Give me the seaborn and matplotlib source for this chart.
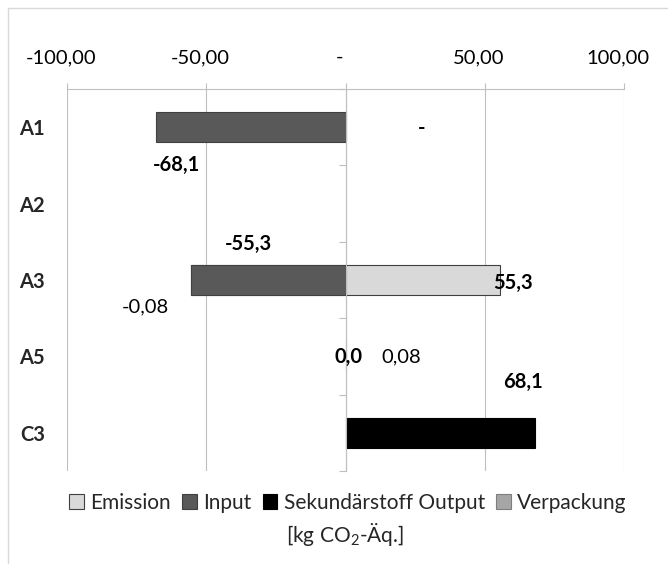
import matplotlib
matplotlib.use("Agg")
import matplotlib.pyplot as plt
import matplotlib.transforms as mtransforms
from matplotlib.lines import Line2D
from matplotlib.patches import Patch
from matplotlib.ticker import FuncFormatter, FixedLocator
import numpy as np
import pandas as pd
import seaborn as sns

# --- data -------------------------------------------------------------
categories = ["A1", "A2", "A3", "A5", "C3"]
emission = [0.0, 0.0, 55.3, 0.0, 0.0]
input_ = [-68.1, 0.0, -55.3, 0.0, 0.0]
sekundaer = [0.0, 0.0, 0.0, 0.0, 68.1]
verpackung = [0.0, 0.0, -0.08, 0.08, 0.0]
x_ticks = [-100, -50, 0, 50, 100]

series_names = ["Emission", "Input", "Sekundärstoff Output", "Verpackung"]
series_values = [emission, input_, sekundaer, verpackung]
colors = {"Emission": "#d9d9d9", "Input": "#595959",
          "Sekundärstoff Output": "#000000", "Verpackung": "#a6a6a6"}
edges = {"Emission": "#404040", "Input": "#404040",
         "Sekundärstoff Output": "#000000", "Verpackung": "#7f7f7f"}

# --- style ------------------------------------------------------------
sns.set_theme(style="white")
plt.rcParams["font.family"] = ["Lato", "DejaVu Sans"]
plt.rcParams["mathtext.fontset"] = "custom"
plt.rcParams["mathtext.rm"] = "Lato"
plt.rcParams["mathtext.default"] = "rm"

fig = plt.figure(figsize=(6.68, 5.64), dpi=100)
W, H = 668, 564
ax = fig.add_axes([67 / W, 1 - 471 / H, (624 - 67) / W, (471 - 89) / H])

df = pd.DataFrame({"cat": categories})
for n, v in zip(series_names, series_values):
    df[n] = v

# stacked bars: positive and negative parts stacked separately in series order
pos_cum = np.zeros(len(categories))
neg_cum = np.zeros(len(categories))
layers = []
for n in series_names:
    v = df[n].to_numpy()
    p = np.where(v > 0, v, 0.0)
    q = np.where(v < 0, v, 0.0)
    pos_cum = pos_cum + p
    neg_cum = neg_cum + q
    layers.append((n, pos_cum.copy(), neg_cum.copy(), p, q))

# draw from the outermost cumulative layer inwards
for n, pc, nc, p, q in reversed(layers):
    for cum, part in ((pc, p), (nc, q)):
        if not np.any(part != 0):
            continue
        d = pd.DataFrame({"cat": categories, "val": np.where(part != 0, cum, np.nan)})
        sns.barplot(data=d, y="cat", x="val", order=categories, orient="h",
                    color=colors[n], width=0.4, ax=ax,
                    edgecolor=edges[n], linewidth=0.8, saturation=1)

ax.set_xlim(-100, 100)
ax.set_ylim(4.5, -0.5)

# spines: category axis sits on the zero line
ax.spines["right"].set_position(("data", 0))
ax.spines["right"].set_color("#bfbfbf")
ax.spines["right"].set_linewidth(0.8)
ax.spines["top"].set_color("#bfbfbf")
ax.spines["top"].set_linewidth(0.8)
ax.spines["left"].set_visible(False)
ax.spines["bottom"].set_visible(False)

# top value axis
ax.xaxis.tick_top()
ax.xaxis.set_label_position("top")
ax.set_xticks(x_ticks)
ax.xaxis.set_major_formatter(FuncFormatter(
    lambda v, _: "-" if v == 0 else f"{v:.2f}".replace(".", ",")))
ax.tick_params(axis="x", which="major", top=True, bottom=False, direction="out",
               length=4.5, width=0.8, color="#bfbfbf", pad=12,
               labelsize=14.5, labelcolor="#000000")
ax.grid(axis="x", color="#bfbfbf", linewidth=0.8)
ax.grid(axis="y", visible=False)
ax.set_axisbelow(True)

ax.set_ylabel("")
ax.set_xlabel("")
ax.set_yticks(range(len(categories)))
ax.yaxis.set_minor_locator(FixedLocator(np.arange(len(categories) + 1) - 0.5))
ax.tick_params(axis="y", which="minor", left=False, right=True, direction="in",
               length=5, width=0.8, color="#bfbfbf")
ax.tick_params(axis="y", which="major", left=False, right=False, length=0, pad=16,
               labelleft=True, labelright=False, labelsize=14.5)
ax.set_yticklabels(categories, fontweight="bold", fontsize=14.5)

shift = mtransforms.ScaledTranslation(-6 / 100, 0, fig.dpi_scale_trans)
for lab in ax.get_xticklabels():
    lab.set_transform(lab.get_transform() + shift)


def fmt(v, dec):
    if v == 0 and dec == 0:
        return "-"
    return f"{v:.{dec}f}".replace(".", ",")


# data labels: (series, category index, decimals, x, y, bold)
labels = [
    ("Input", 0, 1, -60.7, 0.49, True),
    ("Emission", 0, 0, 27.3, 0.01, True),
    ("Input", 2, 1, -34.8, 1.53, True),
    ("Emission", 2, 1, 60.0, 2.04, True),
    ("Verpackung", 2, 2, -71.8, 2.35, False),
    ("Emission", 3, 1, 1.1, 3.01, True),
    ("Verpackung", 3, 2, 20.1, 3.01, False),
    ("Sekundärstoff Output", 4, 1, 63.6, 3.33, True),
]
for n, i, dec, x, y, bold in labels:
    ax.text(x, y, fmt(df[n].iloc[i], dec), ha="center", va="center",
            fontsize=14.5, fontweight="bold" if bold else "normal",
            color="#000000", zorder=5)

# legend and unit
handles = [Patch(facecolor=colors[n], edgecolor=edges[n], linewidth=0.8, label=n)
           for n in series_names]
fig.legend(handles=handles, loc="center", bbox_to_anchor=(348 / W, 1 - 503 / H),
           ncol=4, frameon=False, fontsize=15, handlelength=0.7,
           handleheight=0.7, handletextpad=0.3, columnspacing=0.55,
           borderaxespad=0, borderpad=0)
fig.text(345 / W, 1 - 535 / H, "[kg CO$_2$-Äq.]", ha="center", va="center",
         fontsize=15)

# thin frame around the chart area
fig.add_artist(Line2D([8 / W, 8 / W], [0, 1 - 8 / H], color="#d9d9d9", linewidth=1))
fig.add_artist(Line2D([8 / W, 1], [1 - 8 / H, 1 - 8 / H], color="#d9d9d9", linewidth=1))

fig.savefig("out.png", dpi=100)
